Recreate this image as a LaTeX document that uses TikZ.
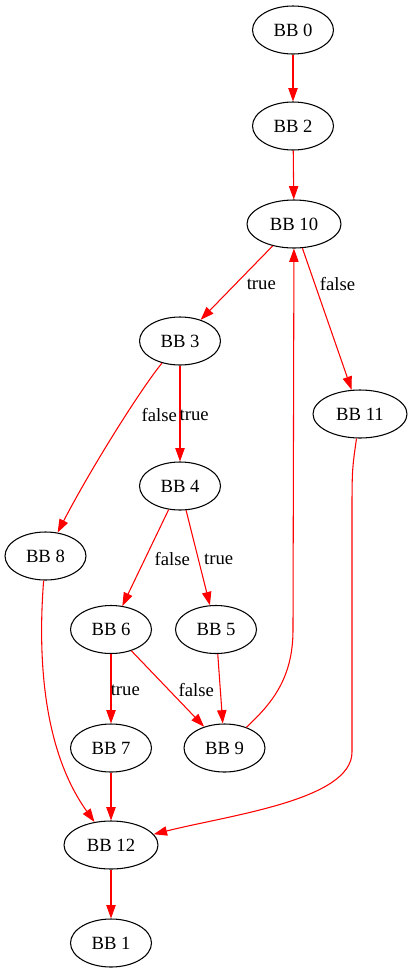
\documentclass[tikz,border=0pt]{standalone}
\usepackage{fontspec}
\setmainfont{Liberation Serif}
\usetikzlibrary{arrows.meta,shapes.geometric}
\begin{document}
\begin{tikzpicture}[x=0.75pt,y=-0.75pt,
  bb/.style={draw=black,line width=0.8pt,ellipse,inner sep=0pt,minimum width=60.75pt,minimum height=36pt,font=\fontsize{14}{16}\selectfont},
  bbw/.style={bb,minimum width=70.5pt},
  edge/.style={draw=red,line width=0.8pt,-{Triangle[length=10pt,width=7pt]}},
  lbl/.style={font=\fontsize{14}{16}\selectfont,inner sep=0pt}]
\useasboundingbox (0,0) rectangle (412,972);
\node[bb]  (b0)  at (293,30)   {BB 0};
\node[bb]  (b2)  at (293,126)  {BB 2};
\node[bbw] (b10) at (294,224)  {BB 10};
\node[bb]  (b3)  at (180,341)  {BB 3};
\node[bbw] (b11) at (360,414)  {BB 11};
\node[bb]  (b4)  at (180,486)  {BB 4};
\node[bb]  (b8)  at (45.5,556) {BB 8};
\node[bb]  (b6)  at (111,629.5) {BB 6};
\node[bb]  (b5)  at (216,629.5) {BB 5};
\node[bb]  (b7)  at (111,748)  {BB 7};
\node[bb]  (b9)  at (224.5,748) {BB 9};
\node[bbw] (b12) at (111,845)  {BB 12};
\node[bb]  (b1)  at (111,943)  {BB 1};

\draw[edge] (b0) -- (b2);
\draw[edge] (b2) -- (b10);
\draw[edge] (b10) -- (b3);
\draw[edge] (b10) -- (b11);
\draw[edge] (b3) -- (b4);
\draw[edge] (b3) .. controls (140,390) and (90,470) .. (b8);
\draw[edge] (b4) -- (b6);
\draw[edge] (b4) -- (b5);
\draw[edge] (b6) -- (b7);
\draw[edge] (b6) -- (b9);
\draw[edge] (b5) -- (b9);
\draw[edge] (b9) .. controls (270,705) and (293,680) .. (293,630) -- (b10);
\draw[edge] (b8) .. controls (36,680) and (50,760) .. (b12);
\draw[edge] (b7) -- (b12);
\draw[edge] (b11) .. controls (352,470) .. (352,520) -- (352,752) .. controls (352,800) and (230,815) .. (b12);
\draw[edge] (b12) -- (b1);

\node[lbl] (l1) at (261.3,284) {true};
\node[lbl] (l2) at (337.5,284) {false};
\node[lbl] (l3) at (159.3,415) {false};
\node[lbl] (l4) at (194.2,415) {true};
\node[lbl] (l5) at (172.3,559) {false};
\node[lbl] (l6) at (218.7,559) {true};
\node[lbl] (l7) at (125.3,690) {true};
\node[lbl] (l8) at (196.3,690) {false};
\end{tikzpicture}
\end{document}
